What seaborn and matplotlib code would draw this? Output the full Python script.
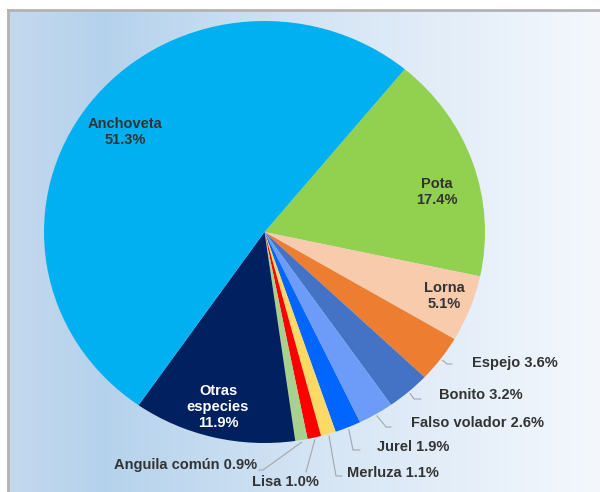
import numpy as np
import seaborn as sns
import matplotlib.pyplot as plt
from matplotlib.colors import LinearSegmentedColormap

# data
species = ['Pota', 'Lorna', 'Espejo', 'Bonito', 'Falso volador', 'Jurel',
           'Merluza', 'Lisa', 'Anguila común', 'Otras\nespecies', 'Anchoveta']
shares = [17.4, 5.1, 3.6, 3.2, 2.6, 1.9, 1.1, 1.0, 0.9, 11.9, 51.3]
colors = ['#92D050', '#F8CBAD', '#ED7D31', '#4472C4', '#6C9CF8', '#0066FF',
          '#FFD966', '#FF0000', '#A9D18E', '#002060', '#00B0F0']

# label layout in pixels: (x, y, ha, color, leader points after the slice edge)
inside = {
    'Pota': (437, 192, '#333333'),
    'Lorna': (444, 296, '#333333'),
    'Otras\nespecies': (218, 407, 'white'),
    'Anchoveta': (125, 132, '#333333'),
}
outside = {
    'Espejo': (472, 363, 'left', [(447, 364), (452, 364)]),
    'Bonito': (439, 395, 'left', [(414, 399), (421, 399)]),
    'Falso volador': (411, 423, 'left', [(386, 427), (391, 427)]),
    'Jurel': (377, 447, 'left', [(353, 450), (360, 450)]),
    'Merluza': (347, 473, 'left', [(336, 476), (342, 476)]),
    'Lisa': (252, 482, 'left', [(306, 472)]),
    'Anguila común': (257, 465, 'right', [(263, 470), (259, 470)]),
}

sns.set_style('white')
plt.rcParams['font.family'] = ['Liberation Sans', 'DejaVu Sans']

W, H = 600, 492
fig = plt.figure(figsize=(W / 100, H / 100), dpi=100)
fig.patch.set_facecolor('white')

# gradient panel
bg = fig.add_axes([8 / W, 0, (W - 8) / W, (H - 10) / H], zorder=0)
cmap = LinearSegmentedColormap.from_list(
    'bg', [(0, '#c4d9ee'), (0.16, '#b5d2ec'), (0.55, '#d7e6f5'), (1, '#f4f8fd')])
bg.imshow(np.linspace(0, 1, 256)[None, :], aspect='auto', cmap=cmap,
          extent=[0, 1, 0, 1])
bg.set_xlim(0, 1)
bg.set_ylim(0, 1)
bg.set_xticks([])
bg.set_yticks([])
for side in ['right', 'bottom']:
    bg.spines[side].set_visible(False)
for side in ['top', 'left']:
    bg.spines[side].set_color('#b3b3b3')
    bg.spines[side].set_linewidth(2)

# pie axes (slightly wider than tall, as in the reference)
cx, cy, rx, ry = 264.5, 232, 220.5, 211
ax = fig.add_axes([(cx - rx) / W, (H - cy - ry) / H, 2 * rx / W, 2 * ry / H], zorder=1)
ax.patch.set_alpha(0)
wedges, _ = ax.pie(shares, colors=colors, startangle=50.5, counterclock=False,
                   radius=1, wedgeprops=dict(linewidth=0))
ax.set_aspect('auto')
ax.set_xlim(-1, 1)
ax.set_ylim(-1, 1)


def to_data(px, py):
    return (px - cx) / rx, (cy - py) / ry


font = dict(fontsize=10.5, fontweight='bold')
for name, share, w in zip(species, shares, wedges):
    if name in inside:
        x, y, c = inside[name]
        tx, ty = to_data(x, y)
        ax.text(tx, ty, f'{name}\n{share:.1f}%', ha='center', va='center',
                color=c, linespacing=1.15, **font)
    else:
        x, y, ha, pts = outside[name]
        tx, ty = to_data(x, y)
        ax.text(tx, ty, f'{name} {share:.1f}%', ha=ha, va='center',
                color='#333333', **font)
        mid = np.deg2rad((w.theta1 + w.theta2) / 2)
        xs = [np.cos(mid) * 1.01] + [to_data(*p)[0] for p in pts]
        ys = [np.sin(mid) * 1.01] + [to_data(*p)[1] for p in pts]
        ax.plot(xs, ys, color='#a6a6a6', lw=0.8, clip_on=False)

fig.savefig('out.png', dpi=100)
